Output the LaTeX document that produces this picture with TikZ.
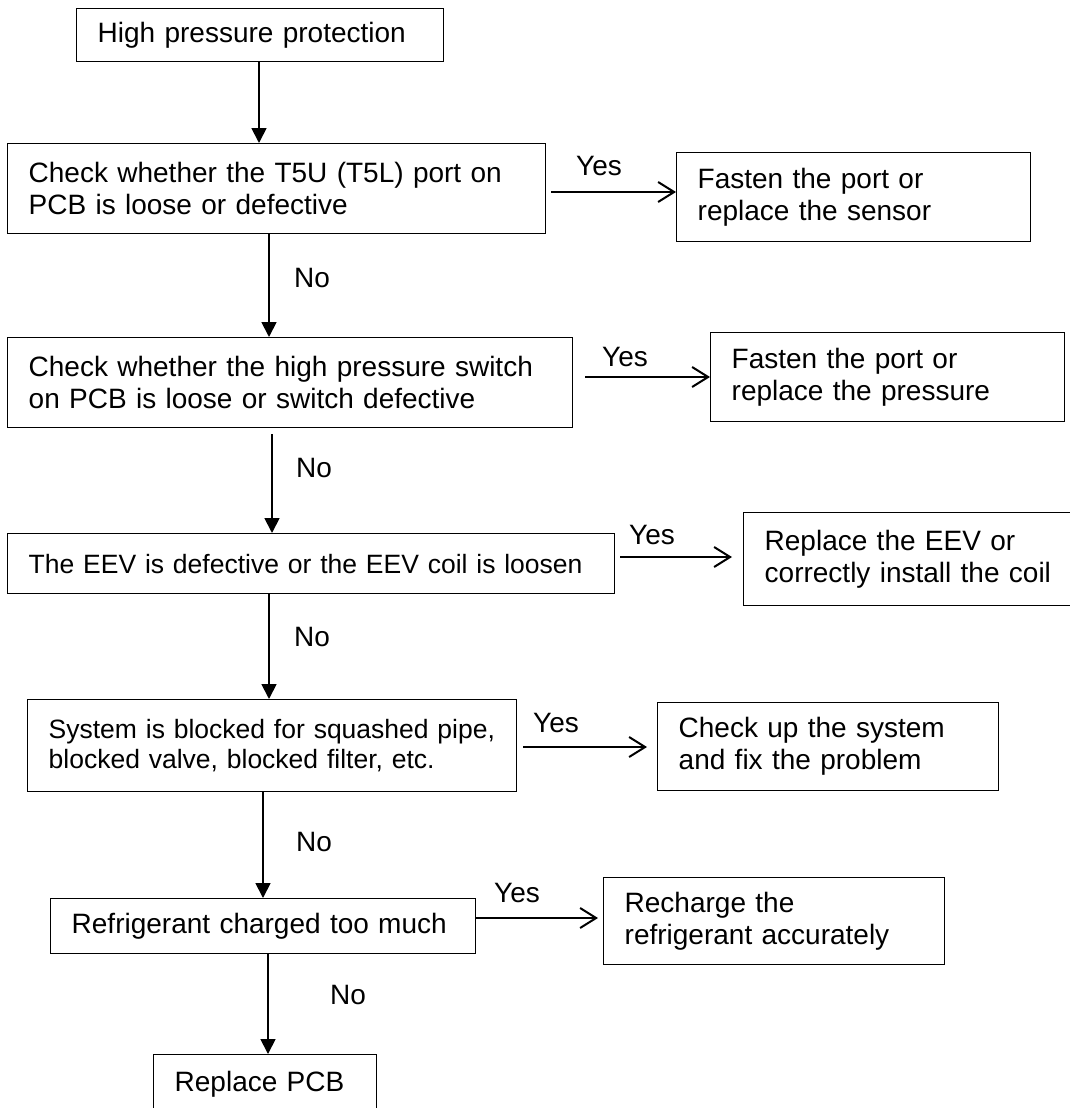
\documentclass[tikz,border=0pt]{standalone}
\usepackage{fontspec}
\setmainfont{Liberation Sans}
\usetikzlibrary{arrows.meta}

\begin{document}
\begin{tikzpicture}[x=0.5pt,y=-0.5pt,
  box/.style={draw,line width=0.7pt,anchor=north west,inner xsep=10.5pt,inner ysep=0pt,align=left,font=\fontsize{14pt}{16pt}\selectfont},
  smalltext/.style={font=\fontsize{13.25pt}{15pt}\selectfont},
  lbl/.style={inner sep=0pt,font=\fontsize{14pt}{16pt}\selectfont},
  down/.style={line width=0.9pt,-{Triangle[length=7.5pt,width=7.5pt]}},
  yes/.style={line width=1pt,-{Straight Barb[length=8pt,width=10pt]}}]
  \useasboundingbox (0,0) rectangle (1070,1108);
  % checks (left column)
  \node[box,text width=162.5pt,minimum height=26.5pt] (hp) at (76,8) {High pressure protection};
  \node[box,text width=248pt,minimum height=45pt] (chk1) at (7,143) {Check whether the T5U (T5L) port on\\PCB is loose or defective};
  \node[box,text width=261.5pt,minimum height=45pt] (chk2) at (7,337) {Check whether the high pressure switch\\on PCB is loose or switch defective};
  \node[box,smalltext,text width=282.5pt,minimum height=30pt] (eev) at (7,533) {The EEV is defective or the EEV coil is loosen};
  \node[box,smalltext,text width=223.5pt,minimum height=46pt] (blk) at (27,699) {System is blocked for squashed pipe,\\blocked valve, blocked filter, etc.};
  \node[box,text width=191.5pt,minimum height=27.5pt] (ref) at (50,898) {Refrigerant charged too much};
  \node[box,text width=90.5pt,minimum height=30pt] (pcb) at (153,1054) {Replace PCB};
  % fixes (right column)
  \node[box,text width=156pt,minimum height=44.5pt] (fix1) at (676,152) {Fasten the port or\\replace the sensor};
  \node[box,text width=156pt,minimum height=44.5pt] (fix2) at (710,332) {Fasten the port or\\replace the pressure};
  \node[box,text width=159pt,minimum height=46.5pt] (fix3) at (743,512) {Replace the EEV or\\correctly install the coil};
  \node[box,text width=149.5pt,minimum height=44pt] (fix4) at (657,702) {Check up the system\\and fix the problem};
  \node[box,text width=149.5pt,minimum height=43.5pt] (fix5) at (603,877) {Recharge the\\refrigerant accurately};
  % No branches
  \draw[down] (hp.south -| 259,0) -- (chk1.north -| 259,0);
  \draw[down] (chk1.south -| 269,0) -- (chk2.north -| 269,0);
  \draw[down] ([yshift=-3pt]chk2.south -| 272,0) -- (eev.north -| 272,0);
  \draw[down] (eev.south -| 269,0) -- (blk.north -| 269,0);
  \draw[down] (blk.south -| 263,0) -- (ref.north -| 263,0);
  \draw[down] (ref.south -| 268,0) -- (pcb.north -| 268,0);
  \node[lbl] (n1) at (312,278) {No};
  \node[lbl] (n2) at (314,468) {No};
  \node[lbl] (n3) at (312,637) {No};
  \node[lbl] (n4) at (314,842) {No};
  \node[lbl] (n5) at (348,995) {No};
  % Yes branches
  \draw[yes] ([xshift=2.5pt]chk1.east |- 0,192) -- (fix1.west |- 0,192);
  \draw[yes] ([xshift=6pt]chk2.east |- 0,377) -- (fix2.west |- 0,377);
  \draw[yes] ([xshift=2.5pt]eev.east |- 0,557) -- ([xshift=-5.5pt]fix3.west |- 0,557);
  \draw[yes] ([xshift=3pt]blk.east |- 0,747) -- ([xshift=-5pt]fix4.west |- 0,747);
  \draw[yes] (ref.east |- 0,918) -- ([xshift=-2.5pt]fix5.west |- 0,918);
  \node[lbl] (y1) at (599,166) {Yes};
  \node[lbl] (y2) at (625,357) {Yes};
  \node[lbl] (y3) at (652,535) {Yes};
  \node[lbl] (y4) at (556,723) {Yes};
  \node[lbl] (y5) at (517,893) {Yes};
\end{tikzpicture}
\end{document}
